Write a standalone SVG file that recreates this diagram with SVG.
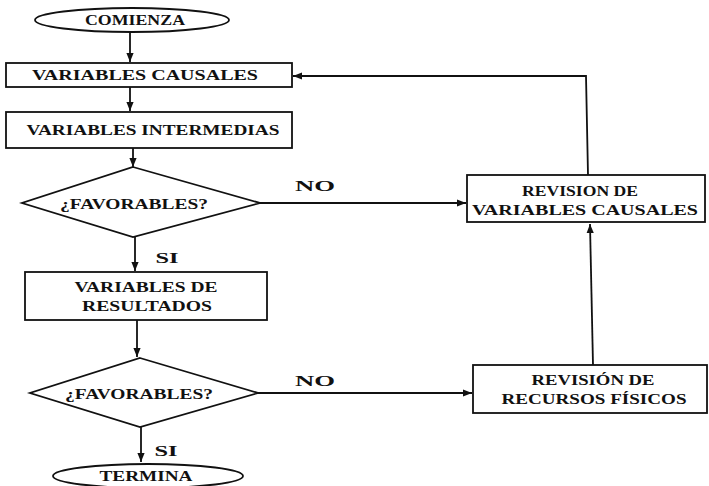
<svg xmlns="http://www.w3.org/2000/svg" width="709" height="486" viewBox="0 0 709 486">
<style>
.s{fill:#fff;stroke:#111;stroke-width:1.8}
.c{fill:none;stroke:#111;stroke-width:1.8}
text{font-family:"Liberation Serif","Times New Roman",serif;font-weight:bold;font-size:14px;fill:#111;text-anchor:middle}
</style>
<defs>
<marker id="a" viewBox="0 0 10 10" refX="10" refY="5" markerWidth="9" markerHeight="9" markerUnits="userSpaceOnUse" orient="auto">
<path d="M0,1 L10,5 L0,9 Z" fill="#111"/>
</marker>
</defs>
<g id="connectors">
<line class="c" x1="130" y1="32" x2="130" y2="62" marker-end="url(#a)"/>
<line class="c" x1="130" y1="87" x2="130" y2="111" marker-end="url(#a)"/>
<line class="c" x1="133" y1="148" x2="133" y2="167" marker-end="url(#a)"/>
<line class="c" x1="260" y1="203" x2="466" y2="203" marker-end="url(#a)"/>
<polyline class="c" points="588,175 586,76 293,76" marker-end="url(#a)"/>
<line class="c" x1="135" y1="237" x2="135" y2="271" marker-end="url(#a)"/>
<line class="c" x1="137" y1="320" x2="137" y2="357" marker-end="url(#a)"/>
<line class="c" x1="258" y1="393" x2="472" y2="393" marker-end="url(#a)"/>
<line class="c" x1="593" y1="365" x2="590" y2="224" marker-end="url(#a)"/>
<line class="c" x1="141" y1="427" x2="141" y2="462" marker-end="url(#a)"/>
<text x="315" y="191" textLength="40" lengthAdjust="spacingAndGlyphs">NO</text>
<text x="167" y="263" textLength="23" lengthAdjust="spacingAndGlyphs">SI</text>
<text x="315" y="386" textLength="40" lengthAdjust="spacingAndGlyphs">NO</text>
<text x="166" y="456" textLength="23" lengthAdjust="spacingAndGlyphs">SI</text>
</g>
<g id="comienza">
<ellipse class="s" cx="132" cy="20" rx="97" ry="12"/>
<text x="135" y="25" textLength="100" lengthAdjust="spacingAndGlyphs">COMIENZA</text>
</g>
<g id="var-causales">
<rect class="s" x="6" y="63" width="286" height="24"/>
<text x="145" y="80" textLength="226" lengthAdjust="spacingAndGlyphs">VARIABLES CAUSALES</text>
</g>
<g id="var-intermedias">
<rect class="s" x="6" y="112" width="286" height="36"/>
<text x="153" y="135" textLength="253" lengthAdjust="spacingAndGlyphs">VARIABLES INTERMEDIAS</text>
</g>
<g id="favorables1">
<polygon class="s" points="133,167 260,203 133,237 22,203"/>
<text x="134" y="209" textLength="148" lengthAdjust="spacingAndGlyphs">¿FAVORABLES?</text>
</g>
<g id="revision-variables">
<rect class="s" x="467" y="175" width="238" height="47"/>
<text x="580" y="196" textLength="116" lengthAdjust="spacingAndGlyphs">REVISION DE</text>
<text x="585" y="215" textLength="226" lengthAdjust="spacingAndGlyphs">VARIABLES CAUSALES</text>
</g>
<g id="var-resultados">
<rect class="s" x="25" y="272" width="242" height="48"/>
<text x="146" y="292" textLength="143" lengthAdjust="spacingAndGlyphs">VARIABLES DE</text>
<text x="147" y="311" textLength="130" lengthAdjust="spacingAndGlyphs">RESULTADOS</text>
</g>
<g id="favorables2">
<polygon class="s" points="140,358 258,393 140,427 30,393"/>
<text x="139" y="399" textLength="148" lengthAdjust="spacingAndGlyphs">¿FAVORABLES?</text>
</g>
<g id="revision-recursos">
<rect class="s" x="473" y="365" width="234" height="48"/>
<text x="593" y="385" textLength="123" lengthAdjust="spacingAndGlyphs">REVISIÓN DE</text>
<text x="594" y="404" textLength="185" lengthAdjust="spacingAndGlyphs">RECURSOS FÍSICOS</text>
</g>
<g id="termina">
<ellipse class="s" cx="148" cy="476" rx="95" ry="12"/>
<text x="146" y="481" textLength="93" lengthAdjust="spacingAndGlyphs">TERMINA</text>
</g>
</svg>
